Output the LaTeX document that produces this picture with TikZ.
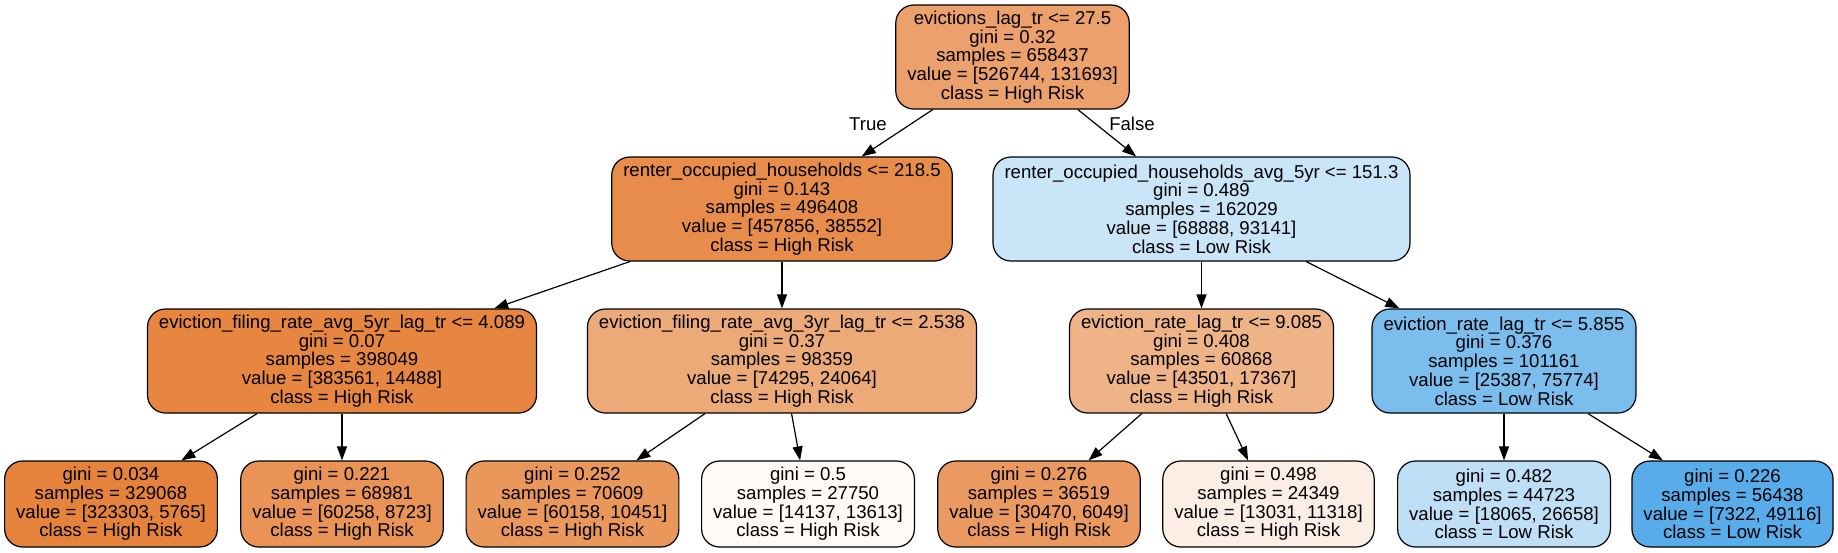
\documentclass[tikz,border=0pt]{standalone}
\usepackage{fontspec}
\setmainfont{Liberation Sans}
\usepackage{xcolor}
\usepackage{tikz}
\usetikzlibrary{arrows.meta}

\definecolor{c0}{RGB}{236,160,107}
\definecolor{c1}{RGB}{231,140,74}
\definecolor{c2}{RGB}{203,229,248}
\definecolor{c3}{RGB}{230,134,65}
\definecolor{c4}{RGB}{237,170,121}
\definecolor{c5}{RGB}{239,179,136}
\definecolor{c6}{RGB}{123,190,238}
\definecolor{c7}{RGB}{229,131,60}
\definecolor{c8}{RGB}{233,147,86}
\definecolor{c9}{RGB}{234,151,91}
\definecolor{c10}{RGB}{254,250,248}
\definecolor{c11}{RGB}{234,154,96}
\definecolor{c12}{RGB}{252,238,229}
\definecolor{c13}{RGB}{191,223,247}
\definecolor{c14}{RGB}{87,172,233}

\begin{document}
\begin{tikzpicture}[x=1pt,y=-1pt,
    box/.style={draw=black, line width=1.2pt, rounded corners=18pt, align=center,
        inner xsep=11.5pt, inner ysep=0pt,
        font=\fontsize{18.6}{18.7}\selectfont},
    split/.style={box, minimum height=104pt},
    leaf/.style={box, minimum height=86pt},
    edge/.style={line width=1.2pt, -{Triangle[length=14pt,width=10pt]}},
    lbl/.style={font=\fontsize{18.6}{18.7}\selectfont}]

\useasboundingbox (0,0) rectangle (1838,552);

% root
\node[split, fill=c0] (n0) at (1012.5,57) {evictions\_lag\_tr <= 27.5\\gini = 0.32\\samples = 658437\\value = [526744, 131693]\\class = High Risk};

% second level
\node[split, fill=c1] (n1) at (782,209) {renter\_occupied\_households <= 218.5\\gini = 0.143\\samples = 496408\\value = [457856, 38552]\\class = High Risk};
\node[split, fill=c2] (n2) at (1201.5,209) {renter\_occupied\_households\_avg\_5yr <= 151.3\\gini = 0.489\\samples = 162029\\value = [68888, 93141]\\class = Low Risk};

% third level
\node[split, fill=c3] (n3) at (342,361) {eviction\_filing\_rate\_avg\_5yr\_lag\_tr <= 4.089\\gini = 0.07\\samples = 398049\\value = [383561, 14488]\\class = High Risk};
\node[split, fill=c4] (n4) at (782,361) {eviction\_filing\_rate\_avg\_3yr\_lag\_tr <= 2.538\\gini = 0.37\\samples = 98359\\value = [74295, 24064]\\class = High Risk};
\node[split, fill=c5] (n5) at (1201.5,361) {eviction\_rate\_lag\_tr <= 9.085\\gini = 0.408\\samples = 60868\\value = [43501, 17367]\\class = High Risk};
\node[split, fill=c6] (n6) at (1504,361) {eviction\_rate\_lag\_tr <= 5.855\\gini = 0.376\\samples = 101161\\value = [25387, 75774]\\class = Low Risk};

% leaves
\node[leaf, fill=c7]  (n7)  at (111,504)    {gini = 0.034\\samples = 329068\\value = [323303, 5765]\\class = High Risk};
\node[leaf, fill=c8]  (n8)  at (342,504)    {gini = 0.221\\samples = 68981\\value = [60258, 8723]\\class = High Risk};
\node[leaf, fill=c9]  (n9)  at (572.5,504)  {gini = 0.252\\samples = 70609\\value = [60158, 10451]\\class = High Risk};
\node[leaf, fill=c10] (n10) at (808,504)    {gini = 0.5\\samples = 27750\\value = [14137, 13613]\\class = High Risk};
\node[leaf, fill=c11] (n11) at (1039,504)   {gini = 0.276\\samples = 36519\\value = [30470, 6049]\\class = High Risk};
\node[leaf, fill=c12] (n12) at (1268.5,504) {gini = 0.498\\samples = 24349\\value = [13031, 11318]\\class = High Risk};
\node[leaf, fill=c13] (n13) at (1504,504)   {gini = 0.482\\samples = 44723\\value = [18065, 26658]\\class = Low Risk};
\node[leaf, fill=c14] (n14) at (1732.5,504) {gini = 0.226\\samples = 56438\\value = [7322, 49116]\\class = Low Risk};

\foreach \a/\b in {n0/n1, n0/n2, n1/n3, n1/n4, n2/n5, n2/n6,
                   n3/n7, n3/n8, n4/n9, n4/n10, n5/n11, n5/n12, n6/n13, n6/n14} {
    \draw[edge] (\a) -- (\b);
}

\node[lbl] (true)  at (868,124)  {True};
\node[lbl] (false) at (1132,124) {False};

\end{tikzpicture}
\end{document}
